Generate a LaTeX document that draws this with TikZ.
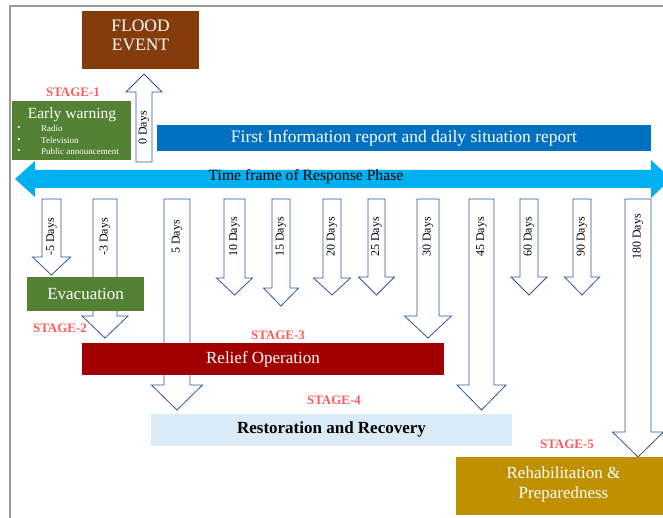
\documentclass[tikz,border=0pt]{standalone}
\usepackage{fontspec}
\setmainfont{Liberation Serif}

\definecolor{floodbrown}{HTML}{843C0C}
\definecolor{warngreen}{HTML}{548235}
\definecolor{reportblue}{HTML}{0070C0}
\definecolor{timecyan}{HTML}{00B0F0}
\definecolor{arrowline}{HTML}{2F5597}
\definecolor{stagered}{HTML}{FF5B5B}
\definecolor{reliefred}{HTML}{A00000}
\definecolor{restoreblue}{HTML}{DAEAF6}
\definecolor{rehabgold}{HTML}{BF9000}
\definecolor{framegray}{HTML}{999999}

\tikzset{
  stagebox/.style={inner sep=0pt, align=center, text=white, font=\fontsize{17}{20}\selectfont},
  stagelabel/.style={text=stagered, inner sep=0pt, font=\bfseries\fontsize{13}{14}\selectfont},
  dayarrow/.style={draw=arrowline, fill=white, line width=0.8pt, line join=miter},
  daylabel/.style={rotate=90, inner sep=0pt, font=\fontsize{12}{13}\selectfont},
}

\begin{document}
\begin{tikzpicture}[x=1pt,y=-1pt] % 1 unit = 1 px of the page

\useasboundingbox (0,0) rectangle (663,518);

% --------- cadre ----------
\draw[framegray, line width=1.5pt] (10,518) -- (10,6) -- (663,6);

% --------- fleche du temps ----------
\fill[timecyan] (15,179) -- (35,161) -- (35,170) -- (651,170) -- (651,160)
  -- (671,179) -- (651,198) -- (651,188) -- (35,188) -- (35,197) -- cycle;
\node[inner sep=0pt, font=\fontsize{15.7}{17}\selectfont] (timeframe) at (306,177) {Time frame of Response Phase};

% --------- fleche 0 jour (vers le haut) ----------
\draw[dayarrow] (136,162) -- (136,92) -- (126,92) -- (144,74) -- (162,92)
  -- (152,92) -- (152,162) -- cycle;
\node[daylabel] (day0) at (144,128) {0 Days};

% --------- fleches des jours (vers le bas) ----------
% x centre / demi-largeur / base de la tete / demi-tete / pointe / jours
\foreach \cx/\hw/\hb/\hh/\tip/\lab [count=\i] in {
    51.5/9.5/257/19/275/-5, 105/12/316/23/338/-3, 177/13/385/25.5/410/5,
    234.5/10.5/278/18/295/10, 281/9/288/17.5/306/15, 332/9/278/18.5/295/20,
    376.5/8.5/277/18/295/25, 428/11/316/23.5/338/30, 481.5/12.5/385/24.5/410/45,
    529/9/277/18/295/60, 582/9/277/17.5/295/90, 638/13/432/25.5/457/180}{
  \draw[dayarrow] (\cx-\hw,199) -- (\cx-\hw,\hb) -- (\cx-\hh,\hb) -- (\cx,\tip)
    -- (\cx+\hh,\hb) -- (\cx+\hw,\hb) -- (\cx+\hw,199) -- cycle;
  \node[daylabel] (day\i) at (\cx,237) {\lab\ Days};
}

% --------- boites ----------
\node[fill=floodbrown, inner sep=0pt, minimum width=117pt, minimum height=58pt] (flood) at (140.5,40) {};
\node[stagebox, font=\fontsize{17.5}{19}\selectfont] (floodtext) at (140.5,35) {FLOOD\\EVENT};

\node[fill=warngreen, inner sep=0pt, minimum width=119pt, minimum height=59pt] (warning) at (71.5,130.5) {};
\node[inner sep=0pt, text=white, font=\fontsize{15.5}{17}\selectfont] (warntitle) at (72,115) {Early warning};
\foreach \item/\yy [count=\j] in {Radio/128, Television/140, Public announcement/151}{
  \node[inner sep=0pt, text=white, font=\fontsize{9}{10}\selectfont] (bullet\j) at (19,\yy) {•};
  \node[inner sep=0pt, anchor=west, text=white, font=\fontsize{9}{10}\selectfont] (item\j) at (41,\yy) {\item};
}

\node[inner sep=0pt, fill=reportblue, text=white, minimum width=494pt, minimum height=26pt,
  font=\fontsize{17.5}{19}\selectfont] (report) at (404,138) {First Information report and daily situation report};

\node[stagebox, fill=warngreen, minimum width=117pt, minimum height=34pt] (evac) at (85.5,294) {Evacuation};

\node[stagebox, fill=reliefred, minimum width=362pt, minimum height=32pt] (relief) at (263,359) {Relief Operation};

\node[stagebox, fill=restoreblue, text=black, minimum width=361pt, minimum height=32pt,
  font=\bfseries\fontsize{17}{20}\selectfont] (restore) at (331.5,429.5) {Restoration and Recovery};

\node[fill=rehabgold, inner sep=0pt, minimum width=215pt, minimum height=58pt] (rehab) at (563.5,486) {};
\node[stagebox] (rehabtext) at (563.5,484) {Rehabilitation \&\\Preparedness};

% --------- etapes ----------
\node[stagelabel] (stage1) at (73,92) {STAGE-1};
\node[stagelabel] (stage2) at (60,328) {STAGE-2};
\node[stagelabel] (stage3) at (278,335) {STAGE-3};
\node[stagelabel] (stage4) at (334,400) {STAGE-4};
\node[stagelabel] (stage5) at (567,444) {STAGE-5};

\end{tikzpicture}
\end{document}
